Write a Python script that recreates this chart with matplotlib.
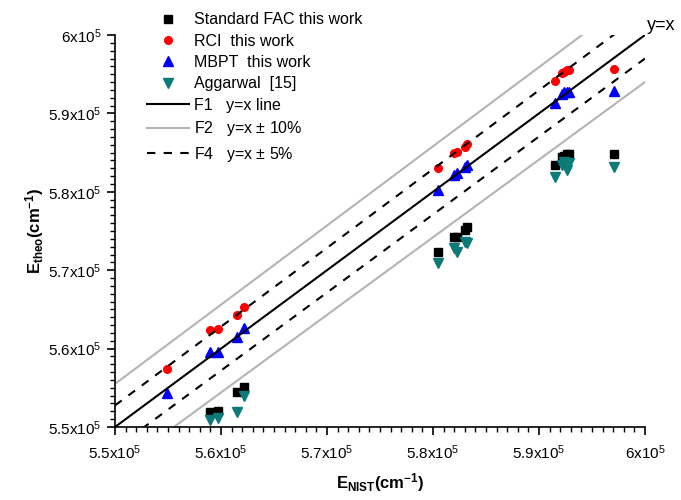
import numpy as np
import matplotlib
matplotlib.use('Agg')
import matplotlib.pyplot as plt
from matplotlib.ticker import MultipleLocator

plt.rcParams['font.family'] = ['Liberation Sans', 'DejaVu Sans']
plt.rcParams['mathtext.fontset'] = 'custom'
plt.rcParams['mathtext.rm'] = 'Liberation Sans'
plt.rcParams['mathtext.it'] = 'Liberation Sans:italic'
plt.rcParams['mathtext.bf'] = 'Liberation Sans:bold'

# ----- DADOS (cm^-1)
x_nist = [554877, 558962, 559764, 561509, 562123, 580425, 581981, 582264,
          583019, 583208, 591463, 592142, 592359, 592614, 592831, 597104]
y_fac = [None, 551875, 552079, 554502, 555140, 572385, 574273, 574273,
         575127, 575548, 583418, 584477, 584566, 584821, 584821, 584821]
y_rci = [557398, 562334, 562500, 564286, 565344, 583099, 584949, 585115,
         585778, 586097, 594132, 595114, 595319, 595535, 595535, 595625]
y_mbpt = [554298, 559605, 559605, 561441, 562589, 580166, 582143, 582359,
          583202, 583418, 591288, 592437, 592691, 592768, 592691, 592896]
y_agg = [None, 550893, 551110, 551952, 553992, 570918, 572793, 572360,
         573635, 573469, 581926, 583418, 583839, 582781, 583673, 583202]

x_lim = (5.5e5, 6.0e5)
x_ticks = [5.5e5, 5.6e5, 5.7e5, 5.8e5, 5.9e5, 6.0e5]
tick_labels = ['5.5x10$^{5}$', '5.6x10$^{5}$', '5.7x10$^{5}$',
               '5.8x10$^{5}$', '5.9x10$^{5}$', '6x10$^{5}$']


def pares(xs, ys):
    xx = [a for a, b in zip(xs, ys) if b is not None]
    yy = [b for b in ys if b is not None]
    return xx, yy


fig = plt.figure(figsize=(6.81, 5.0), dpi=100)
ax = fig.add_axes([115 / 681, 1 - 427 / 500, 530 / 681, 392 / 500])

# ----- PONTOS
ax.plot(*pares(x_nist, y_fac), 's', color='black', ms=5.5,
        label='Standard FAC this work', clip_on=False)
ax.plot(*pares(x_nist, y_rci), 'o', color='red', ms=5.5,
        label='RCI  this work', clip_on=False)
ax.plot(*pares(x_nist, y_mbpt), '^', color='blue', ms=7,
        label='MBPT  this work', clip_on=False)
ax.plot(*pares(x_nist, y_agg), 'v', color='#0d7a7a', ms=7,
        label='Aggarwal  [15]', clip_on=False)

# ----- RETAS
xl = np.array(x_lim)
ax.plot(xl, xl, color='black', lw=1.5, label='F1   y=x line')
ax.plot(xl, xl * 1.01, color='#b4b4b4', lw=1.5, label='F2   y=x $\\pm$ 10%')
ax.plot(xl, xl * 1.005, color='black', lw=1.5, dashes=(4, 4),
        label='F4   y=x $\\pm$ 5%')
ax.plot(xl, xl * 0.99, color='#b4b4b4', lw=1.5)
ax.plot(xl, xl * 0.995, color='black', lw=1.5, dashes=(4, 4))

ax.set_xlim(*x_lim)
ax.set_ylim(*x_lim)
ax.set_xticks(x_ticks)
ax.set_xticklabels(tick_labels)
ax.set_yticks(x_ticks)
ax.set_yticklabels(tick_labels)
ax.xaxis.set_minor_locator(MultipleLocator(1000))
ax.yaxis.set_minor_locator(MultipleLocator(1000))
ax.tick_params(which='major', direction='out', length=6, width=1.2,
               labelsize=11, colors='black')
ax.tick_params(which='minor', direction='out', length=3.5, width=1.0)
ax.tick_params(axis='x', pad=6)
for s in ['top', 'right']:
    ax.spines[s].set_visible(False)
for s in ['left', 'bottom']:
    ax.spines[s].set_linewidth(1.2)

ax.set_xlabel('$\\mathbf{E_{NIST}(cm^{-1})}$', fontsize=12, labelpad=6)
ax.set_ylabel('$\\mathbf{E_{theo}(cm^{-1})}$', fontsize=12, labelpad=2)

fig.text(647 / 681, 1 - 26 / 500, 'y=x', fontsize=13, va='center', ha='left')

ax.legend(loc='upper left', bbox_to_anchor=(136 / 681, 1 - 1 / 500),
          bbox_transform=fig.transFigure, frameon=False, fontsize=11.5,
          handlelength=2.6, handletextpad=0.3, labelspacing=0.4,
          numpoints=1, borderpad=0.2)

plt.savefig('out.png', dpi=100)
